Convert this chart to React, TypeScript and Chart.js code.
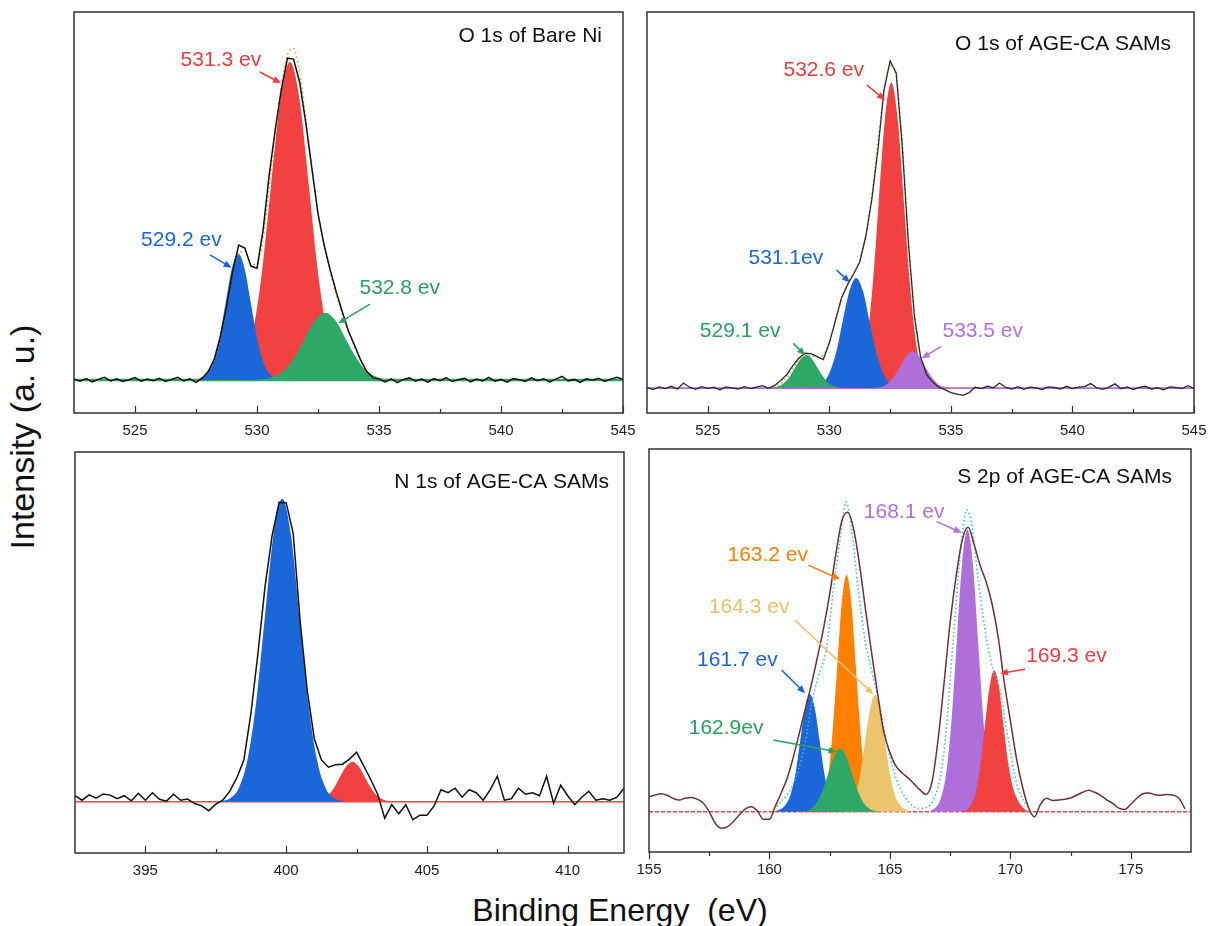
import React, { useEffect, useRef } from 'react';
import { Chart, registerables } from 'chart.js';

Chart.register(...registerables);

const FONT = '"Liberation Sans", Arial, Helvetica, sans-serif';
Chart.defaults.font.family = FONT;

// ================= Panel A : O 1s of Bare Ni =================
const oNiTicks = [525, 530, 535, 540, 545];
const oNiMinor = [527.5, 532.5, 537.5, 542.5];
const oNiRawStart = 522.5;
const oNiRawStep = 0.25;
const oNiRaw = [
  0.3, -0.4, 0.5, -0.6, 0.2, 0.9, -0.3, 0.4, -0.5, 0.1, 0.8, -0.4, 0.3, -0.2, 0.6, -0.5, 0.2, 0.9, -0.3, 0.4, -0.8, 0.6,
  2.8, 7.0, 14.5, 24.5, 36.0, 45.0, 44.0, 38.0, 37.3, 50.0, 68.4, 83.6, 97.0, 107.3, 107.0, 99.2, 85.7, 70.5, 55.5, 45.0,
  36.7, 29.3, 22.6, 16.3, 11.5, 6.6, 2.8, 0.8, 0.3,
  -0.6, 0.4, -0.9, 0.2, 0.7, -0.4, 0.3, -0.7, 0.5, -0.2, 0.8, -0.5, 0.1, 0.6, -0.6, 0.3, -0.3, 0.9, -0.4, 0.2,
  -0.7, 0.5, 0.1, -0.5, 0.7, -0.2, 0.4, -0.6, 0.3, 1.2, -0.3, 0.2, -0.8, 0.4, -0.1, 0.6, -0.5, 0.3, 0.9, 0.2,
];
const oNiFitStart = 527.5;
const oNiFitStep = 0.25;
const oNiFit = [
  0.2, 0.8, 2.8, 6.8, 14.0, 24.5, 35.5, 42.0, 43.0, 38.5, 38.5, 47.5, 64.0, 83.0, 98.0, 108.5, 110.5,
  102.5, 87.0, 71.0, 55.5, 44.5, 36.0, 28.5, 22.0, 16.0, 11.0, 6.5, 3.0, 1.2, 0.4, 0.1, 0.0,
];
const oNiRedX = [528.62, 529.01, 529.4, 529.79, 530.18, 530.57, 530.96, 531.35, 531.74, 532.13, 532.52, 532.91, 533.3, 533.69, 534.08];
const oNiRed = [0.2, 1.2, 4.7, 14.3, 34.4, 64.3, 93.5, 106, 93.5, 64.3, 34.4, 14.3, 4.7, 1.2, 0.2];
const oNiBlueX = [527.41, 527.67, 527.93, 528.19, 528.45, 528.71, 528.97, 529.23, 529.49, 529.75, 530.01, 530.27, 530.53, 530.79, 531.05];
const oNiBlue = [0.1, 0.5, 1.9, 5.7, 13.7, 25.6, 37.2, 42.2, 37.2, 25.6, 13.7, 5.7, 1.9, 0.5, 0.1];
const oNiGreenX = [529.82, 530.24, 530.66, 531.09, 531.52, 531.94, 532.37, 532.79, 533.22, 533.64, 534.07, 534.49, 534.92, 535.34, 535.77];
const oNiGreen = [0.05, 0.25, 1.0, 3.0, 7.3, 13.6, 19.8, 22.4, 19.8, 13.6, 7.3, 3.0, 1.0, 0.25, 0.05];

// ================= Panel B : O 1s of AGE-CA SAMs =================
const oSamTicks = [525, 530, 535, 540, 545];
const oSamMinor = [527.5, 532.5, 537.5, 542.5];
const oSamRawStart = 522.5;
const oSamRawStep = 0.25;
const oSamRaw = [
  0.2, -0.5, 0.4, -0.2, 0.6, -0.3, 1.7, 0.3, -0.4, 0.5, -0.1, 0.3, -0.6, 0.4, 0.1, -0.3, 0.5, -0.2, 0.3, 0.8, -0.1, 0.9,
  2.5, 4.5, 7.5, 10.0, 11.6, 11.5, 10.5, 9.5, 15.0, 22.5, 30.0, 34.5, 38.0, 42.0, 50.5, 63.0, 79.5, 99.3, 109.0, 105.0,
  80.6, 48.5, 24.0, 10.5, 4.5, 2.0, 0.3, -0.5, -1.5, -2.0, -2.4, -1.5, 0.3,
  -0.2, 0.6, 0.1, 1.7, 0.2, -0.3, 0.5, -0.4, 0.3, 0.1, -0.5, 0.4, 0.2, -0.3, 0.6, -0.2, 0.3, 0.5, 1.5, 0.1,
  -0.4, 0.3, 1.4, -0.2, 0.4, -0.5, 0.2, 0.6, -0.3, 0.1, -0.6, 0.4, 0.2, -0.2, 0.8, -0.1,
];
const oSamFitStart = 527.5;
const oSamFitStep = 0.25;
const oSamFit = [
  0.1, 0.5, 1.5, 3.5, 6.5, 9.3, 10.8, 10.8, 10.3, 11.0, 15.5, 22.5, 29.5, 34.5, 38.5, 42.5, 51.0,
  64.5, 82.0, 99.0, 107.5, 104.0, 82.0, 50.0, 25.0, 10.5, 4.2, 1.8, 0.7, 0.2, 0.1, 0.0, 0.0,
];
const oSamRedX = [530.73, 530.99, 531.25, 531.51, 531.77, 532.03, 532.29, 532.55, 532.81, 533.07, 533.33, 533.59, 533.85, 534.11, 534.37];
const oSamRed = [0.2, 1.1, 4.5, 13.8, 33.0, 61.7, 89.7, 101.7, 89.7, 61.7, 33.0, 13.8, 4.5, 1.1, 0.2];
const oSamBlueX = [529.18, 529.46, 529.73, 530.0, 530.28, 530.55, 530.83, 531.1, 531.38, 531.65, 531.93, 532.2, 532.48, 532.75, 533.03];
const oSamBlue = [0.1, 0.4, 1.6, 5.0, 11.9, 22.3, 32.4, 36.7, 32.4, 22.3, 11.9, 5.0, 1.6, 0.4, 0.1];
const oSamGreenX = [527.41, 527.64, 527.88, 528.11, 528.35, 528.58, 528.82, 529.05, 529.29, 529.52, 529.76, 529.99, 530.23, 530.46, 530.7];
const oSamGreen = [0.02, 0.1, 0.5, 1.5, 3.6, 6.7, 9.7, 11, 9.7, 6.7, 3.6, 1.5, 0.5, 0.1, 0.02];
const oSamPurpleX = [531.68, 531.93, 532.18, 532.43, 532.68, 532.93, 533.18, 533.43, 533.68, 533.93, 534.18, 534.43, 534.68, 534.93, 535.18];
const oSamPurple = [0.03, 0.14, 0.54, 1.65, 4.0, 7.4, 10.8, 12.2, 10.8, 7.4, 4.0, 1.65, 0.54, 0.14, 0.03];

// ================= Panel C : N 1s of AGE-CA SAMs =================
const nSamTicks = [395, 400, 405, 410];
const nSamMinor = [397.5, 402.5, 407.5];
const nSamRawStart = 392.5;
const nSamRawStep = 0.25;
const nSamRaw = [
  2.0, 0.5, 2.3, 1.2, 2.6, 2.2, 1.0, 2.0, 0.3, 2.8, 0.5, 3.0, 0.8, 0.2, 2.5, 0.5, 0.9, -0.6, -1.4, -3.0, -0.8, 0.5,
  3.5, 8.0, 14.0, 29.5, 49.6, 71.7, 88.6, 99.8, 99.7, 89.5, 59.8, 37.0, 21.0, 14.0, 11.5, 12.3, 12.5, 14.2, 16.5,
  12.0, 7.5, 2.5, -5.5, -1.0, -4.0, -1.0, -6.0, -4.5, -4.5, -1.5, 4.0, 3.0, 4.5, 1.5, 4.0, 3.0, 0.5, 4.0, 8.5,
  0.5, 1.0, 4.5, 2.5, 3.0, 2.0, 8.5, -0.5, 5.5, 2.0, -1.0, 1.5, 3.5, 0.5, 1.0, 0.5, 1.5, 4.5,
];
const nSamBlueX = [397.69, 398.0, 398.31, 398.62, 398.93, 399.24, 399.55, 399.86, 400.17, 400.48, 400.79, 401.1, 401.41, 401.72, 402.03];
const nSamBlue = [0.2, 1.1, 4.4, 13.7, 32.8, 61.3, 89.1, 101, 89.1, 61.3, 32.8, 13.7, 4.4, 1.1, 0.2];
const nSamRedX = [400.78, 401.0, 401.23, 401.45, 401.68, 401.9, 402.13, 402.35, 402.58, 402.8, 403.03, 403.25, 403.48, 403.7, 403.93];
const nSamRed = [0.03, 0.15, 0.58, 1.8, 4.3, 8.1, 11.7, 13.3, 11.7, 8.1, 4.3, 1.8, 0.58, 0.15, 0.03];

// ================= Panel D : S 2p of AGE-CA SAMs =================
const sSamTicks = [155, 160, 165, 170, 175];
const sSamMinor = [157.5, 162.5, 167.5, 172.5];
const sSamRawStart = 155;
const sSamRawStep = 0.25;
const sSamRaw = [
  5.0, 5.6, 6.0, 5.5, 4.5, 3.9, 4.5, 4.8, 4.2, 2.9, 0.0, -3.8, -5.5, -5.0, -3.3, -1.0, 1.0, 1.7, 0.3, -2.5, -2.5,
  2.0, 6.5, 11.5, 18.5, 26.5, 34.7, 42.7, 51.8, 61.3, 72.5, 85.5, 96.8, 99.8, 94.0, 81.8, 66.7, 52.5, 38.8, 26.5,
  19.8, 15.2, 13.0, 11.3, 9.3, 7.3, 5.8, 10.0, 24.0, 43.0, 63.0, 78.5, 90.5, 94.8, 89.0, 82.0, 76.5, 69.0, 58.0,
  43.0, 30.5, 18.0, 8.5, 1.5, -1.7, 2.5, 4.5, 3.8, 3.9, 4.2, 4.6, 5.5, 6.5, 7.2, 6.5, 5.5, 4.0, 2.8, 1.2, 0.8,
  2.5, 4.5, 6.0, 6.3, 5.7, 5.5, 5.8, 5.6, 4.5, 1.0,
];
const sSamFitX = [160.3, 161.0, 161.48, 161.75, 162.03, 162.38, 162.65, 162.93, 163.18, 163.41, 163.69, 163.97, 164.24, 164.59, 164.87, 165.28, 165.83, 166.25, 166.8, 167.22, 167.63, 167.91, 168.19, 168.4, 168.67, 169.02, 169.29, 169.57, 169.85, 170.26, 170.68];
const sSamFit = [1.7, 9.5, 22.8, 36.1, 45, 55, 73.9, 90.6, 103.3, 93.9, 73.9, 57.2, 47.2, 35, 22.8, 10.6, 2.8, 1.1, 3.9, 18.3, 57.2, 85, 100.6, 95.6, 77.2, 57.2, 47.2, 40.6, 27.2, 9.5, 1.7];
const sBlueX = [160.28, 160.48, 160.68, 160.88, 161.08, 161.28, 161.48, 161.68, 161.88, 162.08, 162.28, 162.48, 162.68, 162.88, 163.08];
const sBlue = [0.3, 0.9, 2.4, 5.8, 12.7, 23.8, 34.6, 39.2, 34.6, 23.8, 12.7, 5.3, 1.7, 0.44, 0.09];
const sOrangeX = [161.84, 162.03, 162.22, 162.42, 162.61, 162.81, 163.0, 163.2, 163.4, 163.59, 163.79, 163.98, 164.17, 164.37, 164.57];
const sOrange = [0.17, 0.88, 3.5, 10.7, 25.6, 47.9, 69.6, 78.9, 69.6, 47.9, 25.6, 10.7, 3.5, 0.88, 0.17];
const sGreenX = [161.22, 161.46, 161.71, 161.95, 162.2, 162.44, 162.69, 162.93, 163.18, 163.42, 163.67, 163.91, 164.16, 164.4, 164.65];
const sGreen = [0.05, 0.23, 0.93, 2.9, 6.9, 12.8, 18.6, 21.1, 18.6, 12.8, 6.9, 2.9, 0.93, 0.23, 0.05];
const sYellowX = [162.95, 163.15, 163.36, 163.56, 163.77, 163.97, 164.18, 164.38, 164.59, 164.79, 165.0, 165.2, 165.41, 165.61, 165.82];
const sYellow = [0.09, 0.43, 1.7, 5.3, 12.6, 23.6, 34.3, 38.9, 34.3, 23.6, 12.6, 5.6, 2.4, 0.9, 0.2];
const sPurpleX = [166.68, 166.9, 167.12, 167.34, 167.56, 167.78, 168.0, 168.22, 168.44, 168.66, 168.88, 169.1, 169.32, 169.54, 169.76];
const sPurple = [0.4, 1.4, 4.6, 12.9, 30.6, 57.1, 83.0, 94.1, 83.0, 57.1, 30.6, 12.7, 4.1, 1.0, 0.2];
const sRedX = [167.97, 168.17, 168.36, 168.56, 168.75, 168.94, 169.14, 169.33, 169.53, 169.72, 169.92, 170.11, 170.3, 170.5, 170.7];
const sRed = [0.1, 0.52, 2.1, 6.4, 15.3, 28.6, 41.7, 47.2, 41.7, 28.6, 15.8, 8.0, 4.0, 1.6, 0.3];

// ---------------- helpers ----------------
type Pt = { x: number; y: number };
const pairs = (xs: number[], ys: number[]): Pt[] => ys.map((y, i) => ({ x: xs[i], y }));
const grid = (start: number, step: number, ys: number[]): Pt[] =>
  ys.map((y, i) => ({ x: Math.round((start + i * step) * 1000) / 1000, y }));

const C = {
  red: '#f24141',
  blue: '#1b66d9',
  green: '#2ea866',
  purple: '#ae6fdb',
  orange: '#ff8000',
  yellow: '#ebc46c',
  brown: '#6e3034',
  black: '#111111',
  fitOrange: '#d9a12a',
  cyan: '#3fc0c8',
};

type Note = { text: string; color: string; at: [number, number]; from: [number, number]; to: [number, number] };

type PanelDef = {
  id: string;
  box: { l: number; t: number; r: number; b: number };
  xMin: number;
  xMax: number;
  yMin: number;
  yMax: number;
  major: number[];
  minor: number[];
  ticksOut: boolean;
  title: string;
  titleInset: number;
  titleOffset: number;
  notes: Note[];
  datasets: any[];
};

const fillDs = (data: Pt[], color: string, order: number) => ({
  data,
  fill: 'origin',
  backgroundColor: color,
  borderColor: 'rgba(0,0,0,0)',
  borderWidth: 1,
  pointRadius: 0,
  cubicInterpolationMode: 'monotone',
  order,
});
const lineDs = (data: Pt[], color: string, width: number, order: number, opts: any = {}) => ({
  data,
  fill: false,
  borderColor: color,
  backgroundColor: color,
  borderWidth: width,
  pointRadius: 0,
  tension: 0,
  order,
  ...opts,
});

const panels: PanelDef[] = [
  {
    id: 'a',
    box: { l: 74, t: 12, r: 623, b: 413 },
    xMin: 522.5, xMax: 545, yMin: -11, yMax: 122.7,
    major: oNiTicks, minor: oNiMinor, ticksOut: false,
    title: 'O 1s of Bare Ni', titleInset: 21, titleOffset: 24,
    notes: [
      { text: '531.3 ev', color: '#f03c3c', at: [528.52, 106.7], from: [530.12, 102.7], to: [530.98, 99] },
      { text: '529.2 ev', color: '#1a66d6', at: [526.9, 46.7], from: [528.07, 41.7], to: [528.96, 37.4] },
      { text: '532.8 ev', color: '#2aa060', at: [535.85, 30.5], from: [534.63, 25.3], to: [533.33, 18.9] },
    ],
    datasets: [
      lineDs(grid(oNiRawStart, oNiRawStep, oNiRaw), C.black, 1.5, 0),
      lineDs(grid(oNiFitStart, oNiFitStep, oNiFit), C.fitOrange, 1.5, 1, { borderDash: [1.5, 3], cubicInterpolationMode: 'monotone' }),
      fillDs(pairs(oNiGreenX, oNiGreen), C.green, 2),
      fillDs(pairs(oNiBlueX, oNiBlue), C.blue, 3),
      fillDs(pairs(oNiRedX, oNiRed), C.red, 4),
      lineDs(pairs([522.5, 545], [0, 0]), C.green, 2.5, 5),
    ],
  },
  {
    id: 'b',
    box: { l: 647, t: 12, r: 1194, b: 413 },
    xMin: 522.5, xMax: 545, yMin: -8.3, yMax: 125.3,
    major: oSamTicks, minor: oSamMinor, ticksOut: false,
    title: 'O 1s of AGE-CA SAMs', titleInset: 23, titleOffset: 32,
    notes: [
      { text: '532.6 ev', color: '#f03c3c', at: [529.77, 106], from: [531.54, 101], to: [532.29, 96] },
      { text: '531.1ev', color: '#1a66d6', at: [528.21, 43.2], from: [530.3, 39.3], to: [530.85, 35.2] },
      { text: '529.1 ev', color: '#2aa060', at: [526.33, 18.8], from: [528.52, 14.9], to: [529.0, 11] },
      { text: '533.5 ev', color: '#b070dd', at: [536.31, 18.8], from: [534.59, 13.8], to: [533.8, 9.9] },
    ],
    datasets: [
      lineDs(grid(oSamRawStart, oSamRawStep, oSamRaw), '#2a2a2a', 1.3, 0),
      lineDs(grid(oSamFitStart, oSamFitStep, oSamFit), C.fitOrange, 1.5, 1, { borderDash: [1.5, 3], cubicInterpolationMode: 'monotone' }),
      fillDs(pairs(oSamGreenX, oSamGreen), C.green, 2),
      fillDs(pairs(oSamPurpleX, oSamPurple), C.purple, 3),
      fillDs(pairs(oSamBlueX, oSamBlue), C.blue, 4),
      fillDs(pairs(oSamRedX, oSamRed), C.red, 5),
      lineDs(pairs([522.5, 545], [0, 0]), C.purple, 1.8, 6),
    ],
  },
  {
    id: 'c',
    box: { l: 75, t: 452, r: 624, b: 853 },
    xMin: 392.5, xMax: 412, yMin: -17.1, yMax: 116.6,
    major: nSamTicks, minor: nSamMinor, ticksOut: false,
    title: 'N 1s of AGE-CA SAMs', titleInset: 15, titleOffset: 30,
    notes: [],
    datasets: [
      lineDs(grid(nSamRawStart, nSamRawStep, nSamRaw), C.black, 1.5, 0),
      fillDs(pairs(nSamBlueX, nSamBlue), C.blue, 1),
      fillDs(pairs(nSamRedX, nSamRed), C.red, 2),
      lineDs(pairs([392.5, 412], [0, 0]), '#f04848', 1.5, 3),
    ],
  },
  {
    id: 'd',
    box: { l: 649, t: 449, r: 1191, b: 852 },
    xMin: 155, xMax: 177.5, yMin: -13.4, yMax: 120.9,
    major: sSamTicks, minor: sSamMinor, ticksOut: true,
    title: 'S 2p of AGE-CA SAMs', titleInset: 19, titleOffset: 28,
    notes: [
      { text: '168.1 ev', color: '#b070dd', at: [165.59, 100], from: [166.94, 96.7], to: [167.98, 93] },
      { text: '163.2 ev', color: '#ff7f00', at: [159.93, 85.6], from: [161.61, 82.2], to: [162.93, 77.5] },
      { text: '164.3 ev', color: '#e9c069', at: [159.16, 68.3], from: [161.06, 63.9], to: [164.31, 39.2] },
      { text: '161.7 ev', color: '#1a66d6', at: [158.67, 50.6], from: [160.51, 47.2], to: [161.48, 39.5] },
      { text: '162.9ev', color: '#2aa060', at: [158.2, 27.8], from: [160.16, 23.9], to: [162.79, 20] },
      { text: '169.3 ev', color: '#f03c3c', at: [172.33, 51.7], from: [170.61, 47.5], to: [169.57, 46.1] },
    ],
    datasets: [
      lineDs(grid(sSamRawStart, sSamRawStep, sSamRaw), C.brown, 1.5, 0, { cubicInterpolationMode: 'monotone' }),
      lineDs(pairs(sSamFitX, sSamFit), C.cyan, 1.6, 1, { borderDash: [1.5, 2.5], cubicInterpolationMode: 'monotone' }),
      fillDs(pairs(sGreenX, sGreen), C.green, 2),
      fillDs(pairs(sBlueX, sBlue), C.blue, 3),
      fillDs(pairs(sYellowX, sYellow), C.yellow, 4),
      fillDs(pairs(sOrangeX, sOrange), C.orange, 5),
      fillDs(pairs(sRedX, sRed), C.red, 6),
      fillDs(pairs(sPurpleX, sPurple), C.purple, 7),
      lineDs(pairs([155, 177.5], [0, 0]), '#f04848', 1.5, 8, { borderDash: [4, 2] }),
    ],
  },
];

const PAD_X = 24;
const PAD_TOP = 4;
const TICK_FONT = 15;
const TICK_PAD = 9;
const AXIS_H = 30;

function makeDecor(p: PanelDef) {
  return {
    id: 'decor_' + p.id,
    afterDraw(chart: any) {
      const { ctx, chartArea: a } = chart;
      const xs = chart.scales.x;
      const ys = chart.scales.y;
      ctx.save();
      // annotations
      for (const n of p.notes) {
        const x1 = xs.getPixelForValue(n.from[0]);
        const y1 = ys.getPixelForValue(n.from[1]);
        const x2 = xs.getPixelForValue(n.to[0]);
        const y2 = ys.getPixelForValue(n.to[1]);
        const ang = Math.atan2(y2 - y1, x2 - x1);
        const head = 8;
        const hw = 3.5;
        ctx.strokeStyle = n.color;
        ctx.fillStyle = n.color;
        ctx.lineWidth = 1.5;
        ctx.beginPath();
        ctx.moveTo(x1, y1);
        ctx.lineTo(x2 - Math.cos(ang) * head * 0.7, y2 - Math.sin(ang) * head * 0.7);
        ctx.stroke();
        const bx = x2 - Math.cos(ang) * head;
        const by = y2 - Math.sin(ang) * head;
        ctx.beginPath();
        ctx.moveTo(x2, y2);
        ctx.lineTo(bx + Math.sin(ang) * hw, by - Math.cos(ang) * hw);
        ctx.lineTo(bx - Math.sin(ang) * hw, by + Math.cos(ang) * hw);
        ctx.closePath();
        ctx.fill();
        ctx.font = `21px ${FONT}`;
        ctx.textAlign = 'center';
        ctx.textBaseline = 'middle';
        ctx.fillText(n.text, xs.getPixelForValue(n.at[0]), ys.getPixelForValue(n.at[1]));
      }
      // title
      ctx.fillStyle = '#111';
      ctx.font = `21px ${FONT}`;
      ctx.textAlign = 'right';
      ctx.textBaseline = 'middle';
      ctx.fillText(p.title, a.right - p.titleInset, a.top + p.titleOffset);
      // frame
      ctx.strokeStyle = '#333';
      ctx.lineWidth = 1.5;
      ctx.strokeRect(a.left, a.top, a.right - a.left, a.bottom - a.top);
      // ticks
      const dir = p.ticksOut ? 1 : -1;
      ctx.lineWidth = 1.2;
      ctx.beginPath();
      for (const v of p.major) {
        const px = Math.round(xs.getPixelForValue(v)) + 0.5;
        ctx.moveTo(px, a.bottom);
        ctx.lineTo(px, a.bottom + dir * 7);
      }
      for (const v of p.minor) {
        const px = Math.round(xs.getPixelForValue(v)) + 0.5;
        ctx.moveTo(px, a.bottom);
        ctx.lineTo(px, a.bottom + dir * 4);
      }
      ctx.stroke();
      ctx.restore();
    },
  };
}

function Panel({ p }: { p: PanelDef }) {
  const ref = useRef<HTMLCanvasElement>(null);
  const w = p.box.r - p.box.l + PAD_X * 2;
  const h = p.box.b - p.box.t + PAD_TOP + AXIS_H;
  useEffect(() => {
    if (!ref.current) return;
    const chart = new Chart(ref.current, {
      type: 'line',
      data: { datasets: p.datasets },
      options: {
        responsive: false,
        maintainAspectRatio: false,
        animation: false,
        events: [],
        layout: { padding: { left: PAD_X, right: PAD_X, top: PAD_TOP, bottom: 0 } },
        plugins: { legend: { display: false }, tooltip: { enabled: false }, title: { display: false } },
        scales: {
          x: {
            type: 'linear',
            min: p.xMin,
            max: p.xMax,
            afterBuildTicks: (axis: any) => {
              axis.ticks = p.major.map((v) => ({ value: v }));
            },
            afterFit: (axis: any) => {
              axis.height = AXIS_H;
            },
            ticks: {
              autoSkip: false,
              maxRotation: 0,
              padding: TICK_PAD,
              color: '#222',
              font: { size: TICK_FONT, family: FONT },
              callback: (v: any) => String(v),
            },
            grid: { display: false, drawTicks: false },
            border: { display: false },
          },
          y: { display: false, min: p.yMin, max: p.yMax },
        },
      } as any,
      plugins: [makeDecor(p)],
    });
    return () => chart.destroy();
  }, []);
  return (
    <canvas
      ref={ref}
      width={w}
      height={h}
      style={{ position: 'absolute', left: p.box.l - PAD_X, top: p.box.t - PAD_TOP, width: w, height: h }}
    />
  );
}

export default function App() {
  return (
    <div style={{ position: 'fixed', left: 0, top: 0, width: 1210, height: 926, background: '#fff', overflow: 'hidden' }}>
      {panels.map((p) => (
        <Panel key={p.id} p={p} />
      ))}
      <div
        style={{
          position: 'absolute', left: 620, top: 910, transform: 'translate(-50%, -50%)',
          font: `32px ${FONT}`, lineHeight: 1, whiteSpace: 'pre', color: '#111',
        }}
      >
        Binding Energy  (eV)
      </div>
      <div
        style={{
          position: 'absolute', left: 22, top: 437, transform: 'translate(-50%, -50%) rotate(-90deg)',
          font: `34px ${FONT}`, lineHeight: 1, whiteSpace: 'nowrap', color: '#111',
        }}
      >
        Intensity (a. u.)
      </div>
    </div>
  );
}
